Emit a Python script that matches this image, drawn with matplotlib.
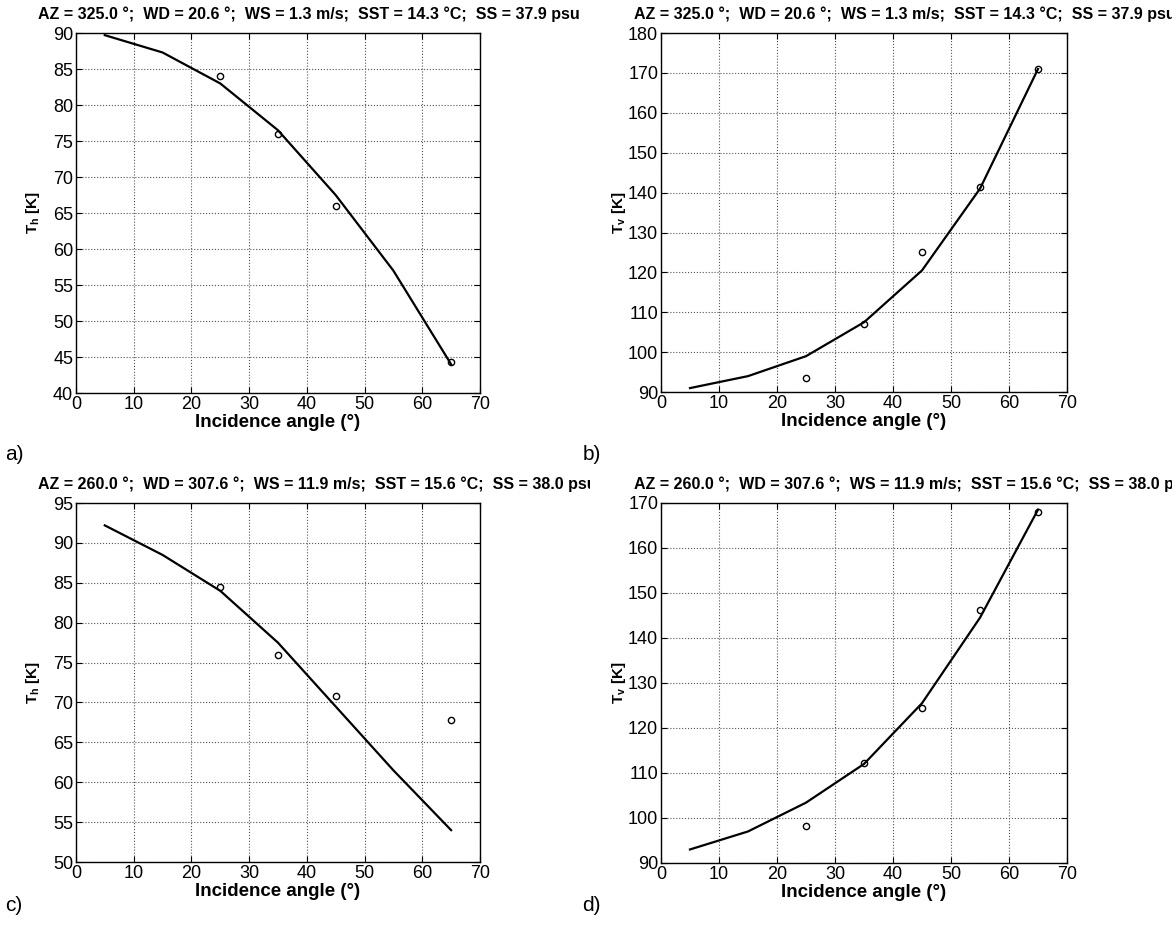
import matplotlib
matplotlib.use("Agg")
import matplotlib.pyplot as plt
from matplotlib.transforms import Bbox, TransformedBbox

plt.rcParams['font.family'] = ['Liberation Sans', 'DejaVu Sans']
plt.rcParams['mathtext.fontset'] = 'custom'
plt.rcParams['mathtext.bf'] = 'Liberation Sans:bold'
plt.rcParams['mathtext.rm'] = 'Liberation Sans'

# incidence angles (deg)
ang_model = [5, 15, 25, 35, 45, 55, 65]

# a) Th, calm case
a_model = [89.7, 87.3, 83.0, 76.5, 67.5, 57.0, 44.0]
a_ang = [25, 35, 45, 65]
a_obs = [84.0, 76.0, 66.0, 44.3]

# b) Tv, calm case
b_model = [91.0, 94.0, 99.0, 107.5, 120.5, 141.0, 171.0]
b_ang = [25, 35, 45, 55, 65]
b_obs = [93.5, 107.0, 125.0, 141.5, 171.0]

# c) Th, windy case
c_model = [92.2, 88.5, 84.0, 77.5, 69.5, 61.5, 54.0]
c_ang = [25, 35, 45, 65]
c_obs = [84.5, 76.0, 70.8, 67.8]

# d) Tv, windy case
d_model = [93.0, 97.0, 103.4, 112.0, 125.5, 144.5, 168.5]
d_ang = [25, 35, 45, 55, 65]
d_obs = [98.2, 112.2, 124.5, 146.3, 168.0]

title1 = "AZ = 325.0 °;  WD = 20.6 °;  WS = 1.3 m/s;  SST = 14.3 °C;  SS = 37.9 psu"
title2 = "AZ = 260.0 °;  WD = 307.6 °;  WS = 11.9 m/s;  SST = 15.6 °C;  SS = 38.0 psu"

panels = [
    # model, obs angles, obs, ylim, ystep, ylabel, title, letter, rect
    (a_model, a_ang, a_obs, (40, 90), 5, r'$\mathbf{T_h}$ [K]', title1, 'a)', [0.0648, 0.581, 0.3447, 0.3838]),
    (b_model, b_ang, b_obs, (90, 180), 10, r'$\mathbf{T_v}$ [K]', title1, 'b)', [0.564, 0.582, 0.3464, 0.3827]),
    (c_model, c_ang, c_obs, (50, 95), 5, r'$\mathbf{T_h}$ [K]', title2, 'c)', [0.0648, 0.081, 0.3447, 0.3827]),
    (d_model, d_ang, d_obs, (90, 170), 10, r'$\mathbf{T_v}$ [K]', title2, 'd)', [0.564, 0.080, 0.3464, 0.3838]),
]

fig = plt.figure(figsize=(11.72, 9.38), dpi=100)

for model, oang, obs, ylim, ystep, ylab, title, letter, rect in panels:
    left = rect[0] < 0.5
    top = rect[1] > 0.5
    ax = fig.add_axes(rect)
    ax.plot(ang_model, model, color='black', lw=1.6)
    ax.plot(oang, obs, 'o', mfc='none', mec='black', ms=4.5, mew=1.0)
    ax.set_xlim(0, 70)
    ax.set_ylim(*ylim)
    ax.set_xticks(range(0, 71, 10))
    ax.set_yticks(range(ylim[0], ylim[1] + 1, ystep))
    ax.grid(True, linestyle=':', color='#555555', lw=0.8)
    ax.tick_params(direction='in', length=4, labelsize=13, pad=2, top=True, right=True)
    for s in ax.spines.values():
        s.set_linewidth(1.0)
    ax.set_xlabel("Incidence angle (°)", fontsize=13.5, fontweight='bold', labelpad=1)
    ax.set_ylabel(ylab, fontsize=11, fontweight='bold', labelpad=0)
    ax.yaxis.set_label_coords(-0.084 if left else -0.081, 0.5)

    # titles start left of the axes, as in the scanned figure
    t = ax.set_title(title, fontsize=11.5, fontweight='bold', loc='left', pad=10)
    t.set_x(-0.094 if left else -0.066)
    t.set_clip_box(TransformedBbox(Bbox([[0, 0], [0.503 if left else 1.0, 1]]), fig.transFigure))
    t.set_clip_on(True)

    fig.text(0.004 if left else 0.497, 0.505 if top else 0.025,
             letter, fontsize=15, ha='left', va='bottom')

fig.savefig("out.png", dpi=100)
